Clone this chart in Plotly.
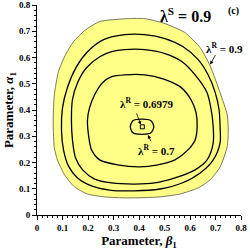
import plotly.graph_objects as go

# Contour curves (beta1, alpha1)
outer_09_x = [0.246, 0.356, 0.423, 0.502, 0.580, 0.640, 0.679, 0.718, 0.746, 0.750, 0.746, 0.718, 0.679, 0.632, 0.561, 0.482, 0.356, 0.265, 0.198, 0.147, 0.108, 0.080, 0.068, 0.064, 0.064, 0.068, 0.084, 0.112, 0.143, 0.186]
outer_09_y = [0.737, 0.748, 0.748, 0.729, 0.695, 0.637, 0.568, 0.466, 0.382, 0.324, 0.260, 0.183, 0.134, 0.103, 0.080, 0.069, 0.065, 0.069, 0.080, 0.107, 0.153, 0.210, 0.256, 0.324, 0.382, 0.458, 0.546, 0.611, 0.660, 0.702]

c085_x = [0.261, 0.344, 0.423, 0.502, 0.573, 0.632, 0.671, 0.699, 0.714, 0.718, 0.718, 0.691, 0.640, 0.569, 0.482, 0.383, 0.285, 0.214, 0.159, 0.123, 0.104, 0.096, 0.100, 0.119, 0.155, 0.198]
c085_y = [0.668, 0.687, 0.687, 0.672, 0.641, 0.592, 0.534, 0.466, 0.401, 0.336, 0.275, 0.210, 0.160, 0.122, 0.099, 0.092, 0.095, 0.111, 0.141, 0.187, 0.248, 0.324, 0.408, 0.485, 0.565, 0.622]

c080_x = [0.293, 0.344, 0.423, 0.502, 0.569, 0.620, 0.667, 0.683, 0.691, 0.691, 0.667, 0.620, 0.541, 0.462, 0.383, 0.293, 0.226, 0.179, 0.151, 0.139, 0.135, 0.139, 0.159, 0.194, 0.246]
c080_y = [0.622, 0.630, 0.630, 0.615, 0.584, 0.534, 0.466, 0.401, 0.336, 0.275, 0.210, 0.172, 0.141, 0.122, 0.118, 0.122, 0.137, 0.172, 0.218, 0.286, 0.363, 0.439, 0.504, 0.561, 0.603]

c075_x = [0.293, 0.344, 0.423, 0.494, 0.561, 0.604, 0.624, 0.628, 0.620, 0.592, 0.541, 0.474, 0.403, 0.316, 0.246, 0.214, 0.202, 0.198, 0.206, 0.226, 0.257]
c075_y = [0.527, 0.534, 0.534, 0.519, 0.489, 0.439, 0.389, 0.336, 0.286, 0.248, 0.210, 0.191, 0.183, 0.191, 0.210, 0.248, 0.305, 0.363, 0.408, 0.458, 0.504]

c070_x = [0.366, 0.376, 0.411, 0.447, 0.458, 0.447, 0.411, 0.376]
c070_y = [0.336, 0.359, 0.365, 0.359, 0.336, 0.313, 0.307, 0.313]

min_x = [0.413]
min_y = [0.336]

FONT = "Liberation Serif"

def closed(xs, ys):
    return xs + xs[:1], ys + ys[:1]

fig = go.Figure()

ox, oy = closed(outer_09_x, outer_09_y)
fig.add_trace(go.Scatter(x=ox, y=oy, mode="lines", fill="toself", fillcolor="#FFFF88",
                         line=dict(color="#7a7a5a", width=1, shape="spline", smoothing=0.6),
                         hoverinfo="skip", showlegend=False))
for xs, ys in [(c085_x, c085_y), (c080_x, c080_y), (c075_x, c075_y), (c070_x, c070_y)]:
    cx, cy = closed(xs, ys)
    fig.add_trace(go.Scatter(x=cx, y=cy, mode="lines",
                             line=dict(color="black", width=1.3, shape="spline", smoothing=0.8),
                             hoverinfo="skip", showlegend=False))
fig.add_trace(go.Scatter(x=min_x, y=min_y, mode="markers",
                         marker=dict(symbol="square-open", size=4, color="black", line=dict(width=1)),
                         hoverinfo="skip", showlegend=False))

def txt(x, y, s, size):
    fig.add_annotation(x=x, y=y, xref="x", yref="y", text=s, showarrow=False,
                       font=dict(family=FONT, size=size, color="black"))

def arrow(x0, y0, x1, y1):
    fig.add_annotation(x=x1, y=y1, ax=x0, ay=y0, xref="x", yref="y", axref="x", ayref="y",
                       text="", showarrow=True, arrowhead=2, arrowsize=0.9, arrowwidth=0.8,
                       arrowcolor="black")

txt(0.581, 0.763, "<b>λ<sup>S</sup> = 0.9</b>", 16)
txt(0.770, 0.776, "<b>(c)</b>", 10)
txt(0.735, 0.637, "<b>λ<sup>R</sup> = 0.9</b>", 11)
arrow(0.703, 0.615, 0.679, 0.573)
txt(0.431, 0.427, "<b>λ<sup>R</sup> = 0.6979</b>", 11)
arrow(0.388, 0.393, 0.407, 0.344)
txt(0.470, 0.248, "<b>λ<sup>R</sup> = 0.7</b>", 11)
arrow(0.450, 0.275, 0.435, 0.305)

axis_common = dict(range=[0, 0.8], dtick=0.1, tick0=0, showgrid=False, zeroline=False,
                   showline=True, linecolor="black", linewidth=1, automargin=False,
                   ticks="outside", ticklen=4, tickwidth=1, tickcolor="black",
                   tickformat="~g",
                   tickfont=dict(family=FONT, size=9, color="black", weight="bold"),
                   minor=dict(dtick=0.02, ticks="outside", ticklen=2, tickcolor="black", tickwidth=1))

fig.update_xaxes(**axis_common,
                 title=dict(text="<b>Parameter, <i>β</i><sub>1</sub></b>", standoff=2,
                            font=dict(family=FONT, size=13, color="black")))
fig.update_yaxes(**axis_common,
                 title=dict(text="<b>Parameter, <i>α</i><sub>1</sub></b>", standoff=2,
                            font=dict(family=FONT, size=13, color="black")))

fig.update_layout(width=250, height=250, margin=dict(l=37, r=9, t=5, b=35, autoexpand=False),
                  plot_bgcolor="white", paper_bgcolor="white")

fig.write_html("out.html", config={"displayModeBar": False},
               post_script="document.body.style.margin='0px';")
